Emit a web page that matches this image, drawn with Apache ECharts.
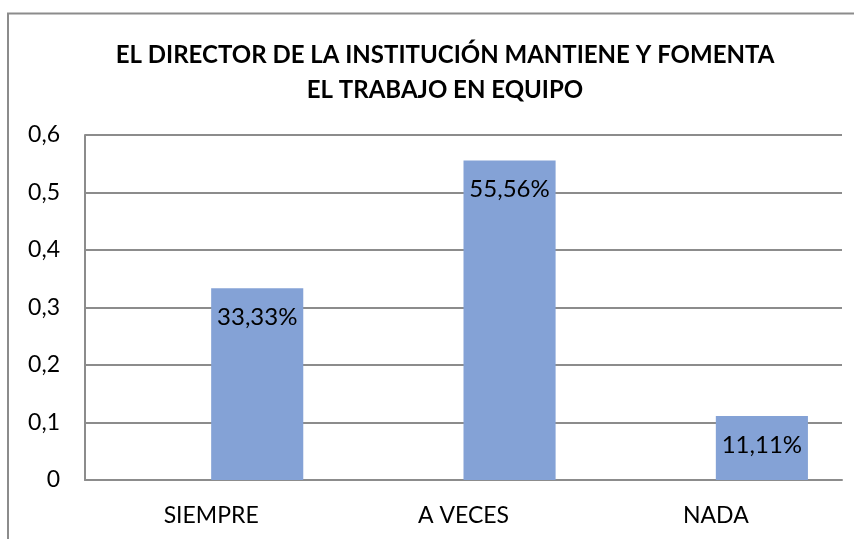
<!DOCTYPE html>
<html>
<head>
<meta charset="utf-8">
<script src="https://cdn.jsdelivr.net/npm/echarts@6/dist/echarts.min.js"></script>
<style>html,body{margin:0;padding:0;background:#fff;}#c{width:854px;height:539px;}</style>
</head>
<body>
<div id="c"></div>
<script>
var titleLines = ['EL DIRECTOR DE LA INSTITUCIÓN MANTIENE Y FOMENTA', 'EL TRABAJO EN EQUIPO'];
var categories = ['SIEMPRE', 'A VECES', 'NADA'];
var values = [0.3333, 0.5556, 0.1111];
var emptySeries = ['-', '-', '-'];
var yMin = 0, yMax = 0.6, yStep = 0.1;

var FONT = 'Lato, "Open Sans", sans-serif';
var chart = echarts.init(document.getElementById('c'), null, {renderer: 'canvas'});
chart.setOption({
  animation: false,
  backgroundColor: '#fff',
  title: {
    text: titleLines.join('\n'),
    left: 440, top: 33, textAlign: 'center',
    textStyle: {fontFamily: FONT, fontWeight: 'bold', fontSize: 24, color: '#000', lineHeight: 35}
  },
  graphic: [{
    type: 'polyline', silent: true,
    shape: {points: [[8, 539], [8, 13.5], [854, 13.5]]},
    style: {stroke: '#8c8c8c', lineWidth: 2, fill: null}
  }],
  grid: {left: 85, right: 12, top: 135, bottom: 59},
  xAxis: {
    type: 'category', data: categories,
    axisLine: {lineStyle: {color: '#8c8c8c', width: 2}},
    axisTick: {show: false},
    axisLabel: {fontFamily: FONT, fontSize: 23, color: '#000', margin: 24}
  },
  yAxis: {
    type: 'value', min: yMin, max: yMax, interval: yStep,
    axisLine: {show: true, lineStyle: {color: '#8c8c8c', width: 2}},
    axisTick: {show: false},
    splitLine: {lineStyle: {color: '#8c8c8c', width: 2}},
    axisLabel: {fontFamily: FONT, fontSize: 23, color: '#000', margin: 25,
      formatter: function (v) { return String(Math.round(v * 10) / 10).replace('.', ','); }}
  },
  series: [
    {type: 'bar', data: emptySeries, barGap: '0%', barCategoryGap: '27%', itemStyle: {color: '#84A2D6'}},
    {type: 'bar', data: values, barGap: '0%', barCategoryGap: '27%',
      itemStyle: {color: '#84A2D6'},
      label: {show: true, position: 'insideTop', distance: 17, fontFamily: FONT, fontSize: 24, color: '#000',
        formatter: function (p) { return (p.value * 100).toFixed(2).replace('.', ',') + '%'; }}}
  ]
});
</script>
</body>
</html>
